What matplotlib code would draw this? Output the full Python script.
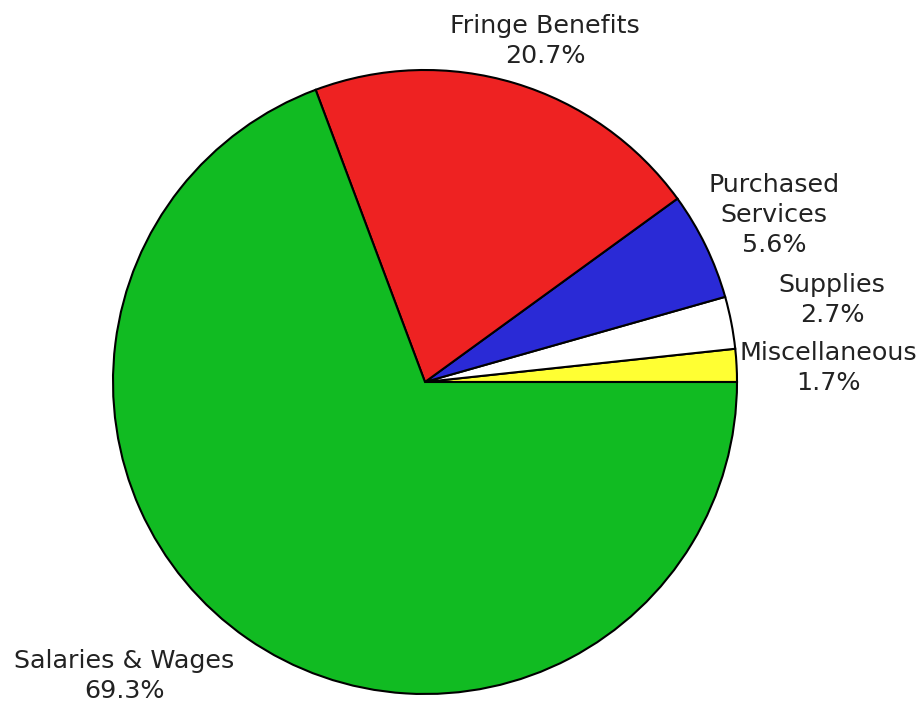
import matplotlib.pyplot as plt

categories = ["Miscellaneous", "Supplies", "Purchased\nServices", "Fringe Benefits", "Salaries & Wages"]
shares = [1.7, 2.7, 5.6, 20.7, 69.3]
colors = ["#ffff33", "#ffffff", "#2a2ad6", "#ee2222", "#11bb22"]

# label centres in pixels (x, y from top)
label_pos = [(828, 368), (832, 300), (774, 215), (545, 41), (124, 676)]

plt.rcParams['font.family'] = ['DejaVu Sans']

W, H = 922, 709
fig = plt.figure(figsize=(W / 100, H / 100), dpi=100)
# pie centre ~(425, 382), radius ~312 px
ax = fig.add_axes([113 / W, (H - 694) / H, 624 / W, 624 / H])
ax.pie(shares, colors=colors, startangle=0, counterclock=True,
       wedgeprops=dict(edgecolor="black", linewidth=1.5))
ax.set_xlim(-1, 1)
ax.set_ylim(-1, 1)
ax.set_aspect("equal")
ax.axis("off")

for name, val, (px, py) in zip(categories, shares, label_pos):
    fig.text(px / W, 1 - py / H, f"{name}\n{val}%", ha="center", va="center",
             fontsize=18.3, linespacing=1.3, color="#222222")

fig.savefig("out.png", dpi=100)
